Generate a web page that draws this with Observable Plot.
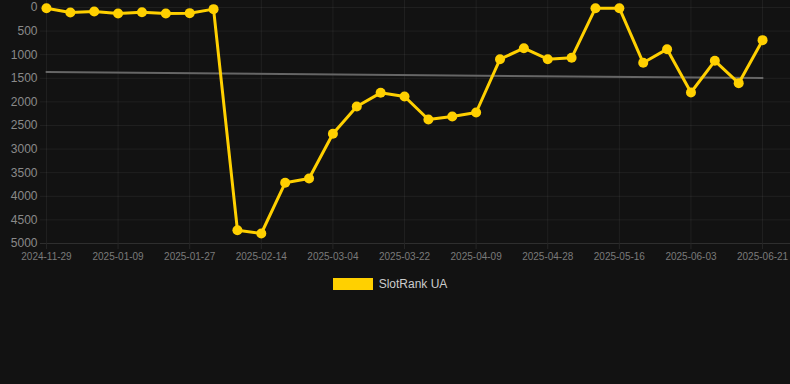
<!DOCTYPE html>
<html><head><meta charset="utf-8">
<script src="https://cdn.jsdelivr.net/npm/d3@7"></script>
<script src="https://cdn.jsdelivr.net/npm/@observablehq/plot@0.6"></script>
<style>
html,body{margin:0;padding:0;background:#121212;width:790px;height:384px;overflow:hidden;font-family:"Liberation Sans",Arial,sans-serif;}
#legend{display:flex;align-items:center;justify-content:center;margin-top:8px;height:12px;font-size:12px;color:#cccccc;padding-right:10px;}
#legend .sw{display:inline-block;width:40px;height:12px;background:#FFD000;margin-right:6px;}
</style></head><body>
<div id="chart"></div>
<div id="legend"><span class="sw"></span><span>SlotRank UA</span></div>
<script>
const dates = ["2024-11-29","2024-12-13","2024-12-27","2025-01-09","2025-01-15","2025-01-21","2025-01-27","2025-02-02","2025-02-08","2025-02-14","2025-02-20","2025-02-26","2025-03-04","2025-03-10","2025-03-16","2025-03-22","2025-03-28","2025-04-03","2025-04-09","2025-04-15","2025-04-22","2025-04-28","2025-05-04","2025-05-10","2025-05-16","2025-05-22","2025-05-28","2025-06-03","2025-06-09","2025-06-15","2025-06-21"];
const ranks = [15,105,85,127,100,127,120,35,4718,4788,3714,3623,2676,2097,1808,1886,2373,2309,2225,1095,862,1095,1066,15,15,1172,883,1801,1130,1603,692];
const xTickIdx = [0,3,6,9,12,15,18,21,24,27,30];
const yTicks = [0,500,1000,1500,2000,2500,3000,3500,4000,4500,5000];
const seriesName = "SlotRank UA";

const data = dates.map((d,i)=>({i, date:d, rank:ranks[i]}));
const gold = "#FFD000";
const plot = Plot.plot({
  width:790, height:270,
  marginLeft:40, marginRight:0, marginTop:0, marginBottom:27,
  style:{background:"transparent", color:"#888", fontFamily:"Liberation Sans, Arial, sans-serif"},
  x:{type:"linear", domain:[-0.25, 31.17]},
  y:{domain:[-148,5000], reverse:true},
  marks:[
    Plot.gridY(yTicks.filter(v=>v<5000), {stroke:"#ffffff", strokeOpacity:0.06}),
    Plot.ruleY([5000], {stroke:"#2e2e2e"}),
    Plot.gridX(xTickIdx, {stroke:"#ffffff", strokeOpacity:0.06}),
    Plot.axisY(yTicks, {tickSize:0, tickPadding:3, fontSize:12, fill:"#8a8a8a", label:null, tickFormat:d=>String(d)}),
    Plot.axisX(xTickIdx, {tickSize:6, tickPadding:3, fontSize:10, fill:"#7a7a7a", stroke:"#262626", tickFormat:i=>dates[i], label:null}),
    Plot.linearRegressionY(data, {x:"i", y:"rank", stroke:"#666666", strokeWidth:2, ci:0}),
    Plot.line(data, {x:"i", y:"rank", stroke:gold, strokeWidth:3}),
    Plot.dot(data, {x:"i", y:"rank", r:5, fill:gold, stroke:"none"})
  ]
});
document.getElementById("chart").appendChild(plot);
document.querySelector("#legend span:last-child").textContent = seriesName;
</script>
</body></html>
